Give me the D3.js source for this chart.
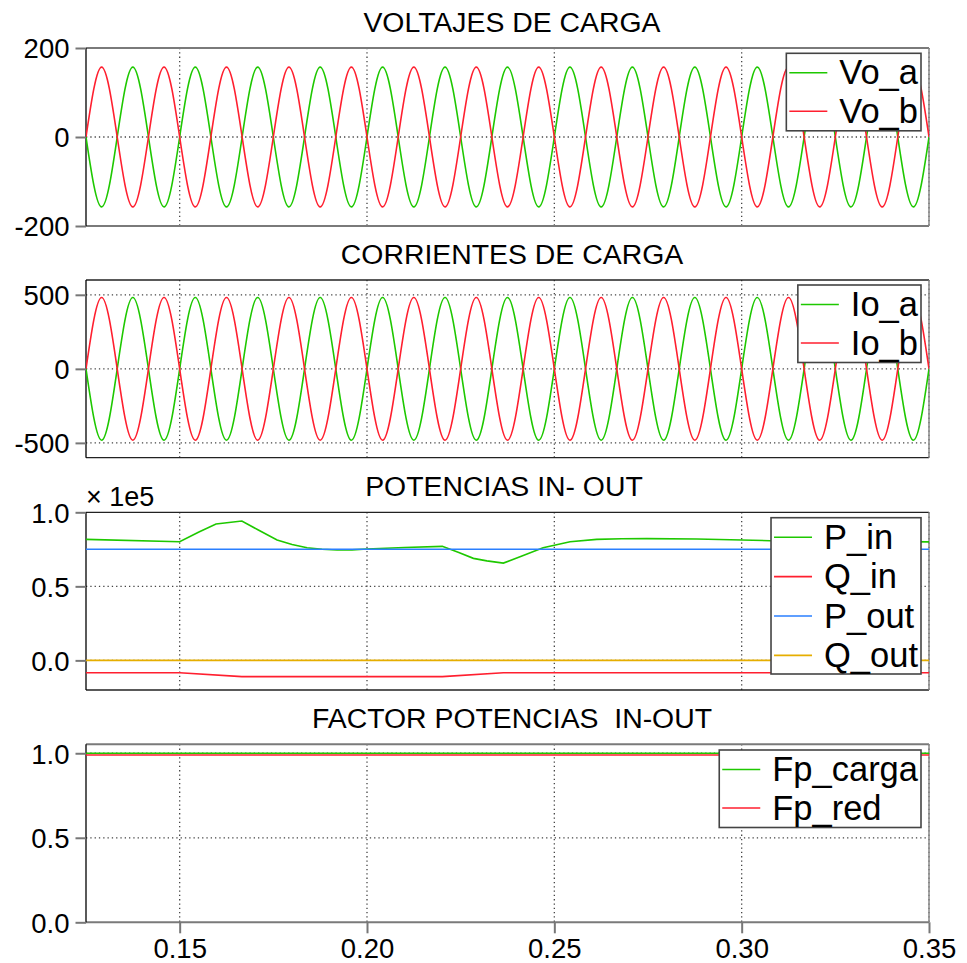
<!DOCTYPE html>
<html>
<head>
<meta charset="utf-8">
<script src="https://cdn.jsdelivr.net/npm/d3@7"></script>
<style>
  html, body { margin: 0; padding: 0; background: #ffffff; }
  svg { display: block; font-family: "Liberation Sans", Arial, sans-serif; }
</style>
</head>
<body>
<svg id="chart" width="967" height="963"></svg>
<script>
// ---------------- DATA ----------------
// time samples for the sinusoidal waveforms (every quarter period of 60 Hz)
const tWave = [0.12500,0.12917,0.13333,0.13750,0.14167,0.14583,0.15000,0.15417,0.15833,0.16250,
  0.16667,0.17083,0.17500,0.17917,0.18333,0.18750,0.19167,0.19583,0.20000,0.20417,
  0.20833,0.21250,0.21667,0.22083,0.22500,0.22917,0.23333,0.23750,0.24167,0.24583,
  0.25000,0.25417,0.25833,0.26250,0.26667,0.27083,0.27500,0.27917,0.28333,0.28750,
  0.29167,0.29583,0.30000,0.30417,0.30833,0.31250,0.31667,0.32083,0.32500,0.32917,
  0.33333,0.33750,0.34167,0.34583,0.35000];
const Vo_a = [0,-157,0,157,0,-157,0,157,0,-157,0,157,0,-157,0,157,0,-157,0,157,
  0,-157,0,157,0,-157,0,157,0,-157,0,157,0,-157,0,157,0,-157,0,157,
  0,-157,0,157,0,-157,0,157,0,-157,0,157,0,-157,0];
const Vo_b = [0,157,0,-157,0,157,0,-157,0,157,0,-157,0,157,0,-157,0,157,0,-157,
  0,157,0,-157,0,157,0,-157,0,157,0,-157,0,157,0,-157,0,157,0,-157,
  0,157,0,-157,0,157,0,-157,0,157,0,-157,0,157,0];
const Io_a = [0,-482,0,482,0,-482,0,482,0,-482,0,482,0,-482,0,482,0,-482,0,482,
  0,-482,0,482,0,-482,0,482,0,-482,0,482,0,-482,0,482,0,-482,0,482,
  0,-482,0,482,0,-482,0,482,0,-482,0,482,0,-482,0];
const Io_b = [0,482,0,-482,0,482,0,-482,0,482,0,-482,0,482,0,-482,0,482,0,-482,
  0,482,0,-482,0,482,0,-482,0,482,0,-482,0,482,0,-482,0,482,0,-482,
  0,482,0,-482,0,482,0,-482,0,482,0,-482,0,482,0];

// power (x 1e5)
const tPin = [0.125,0.150,0.155,0.1597,0.1666,0.171,0.176,0.180,0.184,0.188,0.192,0.196,0.200,0.210,
  0.2201,0.2245,0.2284,0.232,0.2364,0.2417,0.247,0.2542,0.2613,0.268,0.2747,0.288,0.300,0.3076,0.350];
const P_in = [0.817,0.801,0.865,0.921,0.941,0.880,0.813,0.783,0.761,0.750,0.745,0.746,0.752,0.762,
  0.770,0.728,0.689,0.672,0.657,0.709,0.761,0.801,0.817,0.821,0.822,0.820,0.813,0.808,0.800];
const tQin = [0.125,0.150,0.1666,0.2201,0.2364,0.350];
const Q_in = [-0.084,-0.084,-0.110,-0.110,-0.084,-0.084];
const tConst = [0.125,0.350];
const P_out = [0.75,0.75];
const Q_out = [0.0,0.0];

// power factor
const Fp_carga = [1.0,1.0];
const Fp_red = [0.99,0.99];

// tick labels
const xTicks = [0.15,0.20,0.25,0.30,0.35];
const xTickLabels = ["0.15","0.20","0.25","0.30","0.35"];
const titles = ["VOLTAJES DE CARGA","CORRIENTES DE CARGA","POTENCIAS IN- OUT","FACTOR POTENCIAS\u00a0\u00a0IN-OUT"];

// ---------------- LAYOUT ----------------
const svg = d3.select("#chart");
const X0 = 86, X1 = 929;
const x = d3.scaleLinear().domain([0.125,0.35]).range([X0,X1]);
const COL = { green:"#1ec800", red:"#ff1f2f", blue:"#2a7fff", orange:"#e6ae00" };
const FONT_TICK = 27.5, FONT_TITLE = 28.4, FONT_LEG = 34.5;
const titleX = [512, 512, 504, 512];

const panels = [
  { top:48, bottom:226, domain:[-200,200], ticks:[-200,0,200], fmt:d=>String(d), edgeGray:true, topGray:true,
    series:[ {name:"Vo_a", t:tWave, v:Vo_a, c:COL.green, curve:d3.curveNatural},
             {name:"Vo_b", t:tWave, v:Vo_b, c:COL.red, curve:d3.curveNatural} ] },
  { top:280, bottom:457.7, domain:[-600,600], ticks:[-500,0,500], fmt:d=>String(d), edgeGray:false, topGray:false,
    series:[ {name:"Io_a", t:tWave, v:Io_a, c:COL.green, curve:d3.curveNatural},
             {name:"Io_b", t:tWave, v:Io_b, c:COL.red, curve:d3.curveNatural} ] },
  { top:512.3, bottom:690, domain:[-0.2,1.0], ticks:[0,0.5,1.0], fmt:d3.format(".1f"), edgeGray:false, topGray:false,
    series:[ {name:"P_in", t:tPin, v:P_in, c:COL.green, curve:d3.curveLinear},
             {name:"Q_in", t:tQin, v:Q_in, c:COL.red, curve:d3.curveLinear},
             {name:"P_out", t:tConst, v:P_out, c:COL.blue, curve:d3.curveLinear},
             {name:"Q_out", t:tConst, v:Q_out, c:COL.orange, curve:d3.curveLinear} ] },
  { top:744.3, bottom:922.3, domain:[0,1.053], ticks:[0,0.5,1.0], fmt:d3.format(".1f"), edgeGray:true, topGray:true,
    series:[ {name:"Fp_carga", t:tConst, v:Fp_carga, c:COL.green, curve:d3.curveLinear},
             {name:"Fp_red", t:tConst, v:Fp_red, c:COL.red, curve:d3.curveLinear} ] }
];

panels.forEach((p, i) => {
  const y = d3.scaleLinear().domain(p.domain).range([p.bottom, p.top]);
  const g = svg.append("g");

  // clip
  const cid = "clip" + i;
  svg.append("defs").append("clipPath").attr("id", cid)
    .append("rect").attr("x", X0).attr("y", p.top).attr("width", X1 - X0).attr("height", p.bottom - p.top);

  // grid - vertical
  g.append("g").selectAll("line").data(xTicks).join("line")
    .attr("x1", d => x(d)).attr("x2", d => x(d)).attr("y1", p.top).attr("y2", p.bottom)
    .attr("stroke", "#444").attr("stroke-width", 1.3).attr("stroke-dasharray", "1.3,3");
  // grid - horizontal
  g.append("g").selectAll("line").data(p.ticks.filter(d => y(d) > p.top + 1 && y(d) < p.bottom - 1)).join("line")
    .attr("x1", X0).attr("x2", X1).attr("y1", d => y(d)).attr("y2", d => y(d))
    .attr("stroke", "#444").attr("stroke-width", 1.3).attr("stroke-dasharray", "1.3,3");

  // frame
  const frameCol = "#222";
  g.append("line").attr("x1", X0).attr("x2", X1).attr("y1", p.top).attr("y2", p.top)
    .attr("stroke", p.topGray ? "#7a7a7a" : frameCol).attr("stroke-width", p.topGray ? 2 : 1.3);
  g.append("line").attr("x1", X0).attr("x2", X1).attr("y1", p.bottom).attr("y2", p.bottom)
    .attr("stroke", p.edgeGray ? "#7a7a7a" : frameCol).attr("stroke-width", p.edgeGray ? 2 : 1.3);
  g.append("line").attr("x1", X1).attr("x2", X1).attr("y1", p.top).attr("y2", p.bottom)
    .attr("stroke", "#888").attr("stroke-width", 1.5);
  g.append("line").attr("x1", X0).attr("x2", X0).attr("y1", p.top).attr("y2", p.bottom)
    .attr("stroke", "#000").attr("stroke-width", 1.3);

  // y axis
  const ax = g.append("g").attr("transform", `translate(${X0},0)`)
    .call(d3.axisLeft(y).tickValues(p.ticks).tickFormat(p.fmt).tickSize(10.5).tickPadding(6));
  ax.select(".domain").remove();
  ax.selectAll(".tick line").attr("stroke", "#777").attr("stroke-width", 2);
  ax.selectAll(".tick text").attr("font-size", FONT_TICK).attr("fill", "#000").attr("dy", "0.36em")
    .attr("font-family", "'Liberation Sans', Arial, sans-serif");

  // series
  const plot = g.append("g").attr("clip-path", `url(#${cid})`);
  p.series.forEach(s => {
    const pts = s.t.map((t, k) => [t, s.v[k]]);
    plot.append("path").datum(pts)
      .attr("d", d3.line().x(d => x(d[0])).y(d => y(d[1])).curve(s.curve))
      .attr("fill", "none").attr("stroke", s.c).attr("stroke-width", 1.6);
  });

  // title
  svg.append("text").attr("x", titleX[i]).attr("y", p.top - 16).attr("text-anchor", "middle")
    .attr("font-size", FONT_TITLE).attr("fill", "#000").text(titles[i]);

  // legend
  const lg = g.append("g");
  const box = lg.append("rect");
  const texts = p.series.map((s, k) => lg.append("text").attr("font-size", FONT_LEG).attr("fill", "#000").text(s.name));
  const maxW = d3.max(texts, t => t.node().getComputedTextLength());
  const boxRight = X1 - 8;
  const textX = boxRight - 3 - maxW;
  const boxTop = p.top + (i === 0 ? 5.3 : i === 1 ? 5 : i === 2 ? 5.4 : 5.7);
  const rowH = i === 2 ? 39.4 : 38.5;
  const boxH = i === 2 ? 156.3 : 77.5;
  box.attr("x", textX - 53).attr("y", boxTop).attr("width", boxRight - (textX - 53)).attr("height", boxH)
    .attr("fill", "#fff").attr("stroke", "#444").attr("stroke-width", 1.6);
  p.series.forEach((s, k) => {
    const ly = boxTop + 19.5 + k * rowH;
    lg.append("line").attr("x1", textX - 50).attr("x2", textX - 12).attr("y1", ly).attr("y2", ly)
      .attr("stroke", s.c).attr("stroke-width", 1.6);
    texts[k].attr("x", textX).attr("y", ly + 11.5);
    texts[k].raise();
  });

  if (i === 2) {
    svg.append("text").attr("x", 86).attr("y", 506).attr("font-size", 27).attr("fill", "#000").text("\u00d7 1e5");
  }

  if (i === 3) {
    const xa = svg.append("g").attr("transform", `translate(0,${p.bottom})`)
      .call(d3.axisBottom(x).tickValues(xTicks).tickFormat((d, k) => xTickLabels[k]).tickSize(11).tickPadding(5.5));
    xa.select(".domain").remove();
    xa.selectAll(".tick line").attr("stroke", "#777").attr("stroke-width", 2);
    xa.selectAll(".tick text").attr("font-size", FONT_TICK).attr("fill", "#000")
      .attr("font-family", "'Liberation Sans', Arial, sans-serif");
  }
});
</script>
</body>
</html>
